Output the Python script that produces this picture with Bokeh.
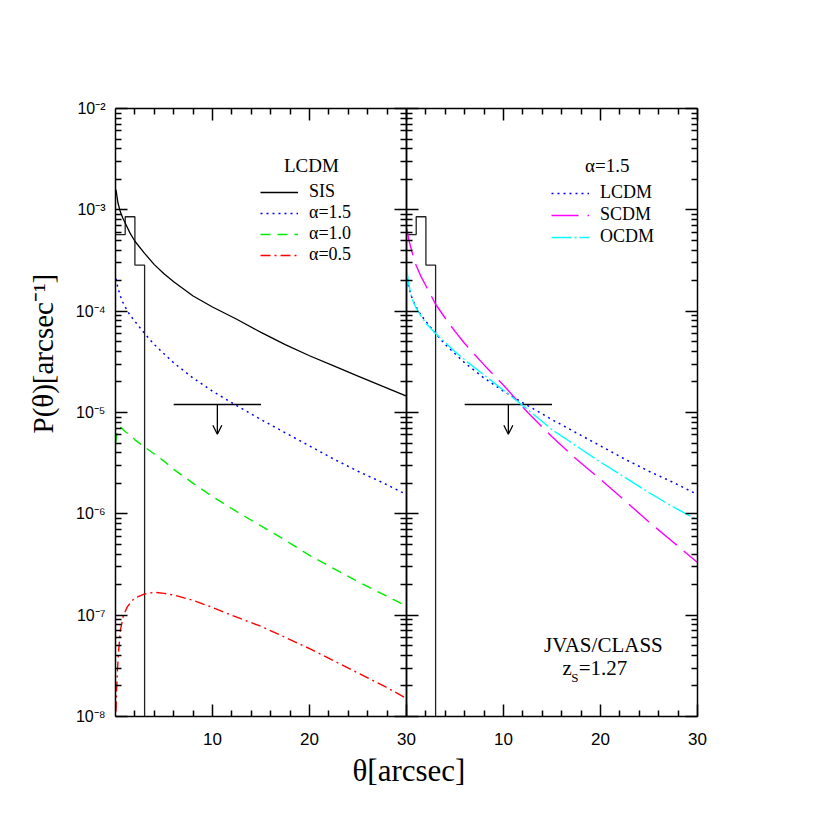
import math
from bokeh.plotting import figure
from bokeh.models import (Range1d, LinearAxis, LogAxis, FixedTicker, Label, Legend,
                          LegendItem, Arrow, OpenHead, Title)
from bokeh.layouts import row
from bokeh.embed import file_html
from bokeh.resources import INLINE

# ---------------- data ----------------
theta = [0.05, 0.25, 0.5, 0.75, 1, 1.5, 2, 3, 4, 5, 6, 8, 10, 12.5, 15, 17.5,
         20, 22.5, 25, 27.5, 30]
p_sis = [1.585e-3, 1.175e-3, 9.55e-4, 8.32e-4, 7.41e-4, 5.89e-4, 4.90e-4, 3.72e-4,
         2.88e-4, 2.34e-4, 1.95e-4, 1.41e-4, 1.10e-4, 8.32e-5, 6.17e-5, 4.68e-5,
         3.63e-5, 2.88e-5, 2.29e-5, 1.82e-5, 1.45e-5]
p_lcdm15 = [2.09e-4, 1.70e-4, 1.41e-4, 1.23e-4, 1.10e-4, 9.12e-5, 7.94e-5, 6.03e-5,
            4.68e-5, 3.80e-5, 3.09e-5, 2.19e-5, 1.62e-5, 1.17e-5, 8.51e-6, 6.31e-6,
            4.68e-6, 3.47e-6, 2.63e-6, 2.04e-6, 1.55e-6]
theta_a10 = [0.02, 0.15, 0.35, 0.6, 1, 1.5, 2, 3, 4, 5, 6, 8, 10, 12.5, 15, 17.5,
             20, 22.5, 25, 27.5, 30]
p_a10 = [5.01e-6, 6.31e-6, 7.08e-6, 7.08e-6, 6.46e-6, 6.03e-6, 5.37e-6, 4.57e-6,
         3.89e-6, 3.31e-6, 2.75e-6, 2.00e-6, 1.48e-6, 1.05e-6, 7.59e-7, 5.50e-7,
         3.89e-7, 2.88e-7, 2.14e-7, 1.62e-7, 1.23e-7]
theta_a05 = [0.05, 0.1, 0.2, 0.3, 0.5, 0.8, 1.2, 1.6, 2, 3, 4, 5, 6, 8, 10, 12.5,
             15, 17.5, 20, 22.5, 25, 27.5, 30]
p_a05 = [1.12e-8, 1.66e-8, 2.82e-8, 4.17e-8, 7.08e-8, 9.77e-8, 1.20e-7, 1.35e-7,
         1.48e-7, 1.62e-7, 1.68e-7, 1.64e-7, 1.58e-7, 1.40e-7, 1.19e-7, 9.55e-8,
         7.76e-8, 6.03e-8, 4.68e-8, 3.55e-8, 2.69e-8, 2.04e-8, 1.51e-8]
p_scdm = [6.46e-4, 5.01e-4, 4.07e-4, 3.31e-4, 2.82e-4, 2.19e-4, 1.78e-4, 1.17e-4,
          8.51e-5, 6.31e-5, 4.79e-5, 2.95e-5, 1.86e-5, 1.00e-5, 5.75e-6, 3.47e-6,
          2.19e-6, 1.35e-6, 8.32e-7, 5.25e-7, 3.31e-7]
p_ocdm = [2.45e-4, 1.82e-4, 1.41e-4, 1.20e-4, 1.07e-4, 8.91e-5, 7.59e-5, 6.03e-5,
          4.90e-5, 3.98e-5, 3.31e-5, 2.34e-5, 1.66e-5, 1.07e-5, 6.76e-6, 4.68e-6,
          3.24e-6, 2.29e-6, 1.62e-6, 1.17e-6, 8.71e-7]

hist_edges = [0, 1, 2, 3]
hist_vals = [5.7e-4, 8.55e-4, 2.85e-4]
hist_floor = 1e-9

limit_theta = [6, 15]
limit_value = 1.2e-5
limit_arrow_theta = 10.5
limit_arrow_end = 6.1e-6

x_ticks = [10, 20, 30]
x_minor_ticks = [2, 4, 6, 8, 12, 14, 16, 18, 22, 24, 26, 28]
y_ticks = [1e-8, 1e-7, 1e-6, 1e-5, 1e-4, 1e-3, 1e-2]
y_tick_labels = ["10\u207b\u2078", "10\u207b\u2077", "10\u207b\u2076", "10\u207b\u2075",
                 "10\u207b\u2074", "10\u207b\u00b3", "10\u207b\u00b2"]
y_minor_ticks = [m * 10.0 ** e for e in range(-8, -2) for m in range(2, 10)]

SERIF = "Liberation Serif"
SANS = "Liberation Sans"
FW, FH = 291, 608
OV = 80


def style_axis(ax, labels, size="17px", standoff=14):
    ax.axis_line_color = "black"
    ax.axis_line_width = 1.5
    ax.major_tick_in = 12
    ax.major_tick_out = 0
    ax.minor_tick_in = 6
    ax.minor_tick_out = 0
    ax.major_tick_line_color = "black"
    ax.minor_tick_line_color = "black"
    ax.major_tick_line_width = 1.5
    ax.minor_tick_line_width = 1.5
    ax.major_label_text_font = SANS
    ax.major_label_text_font_size = size
    if labels:
        ax.major_label_text_color = "black"
        ax.major_label_standoff = standoff
    else:
        ax.major_label_text_color = None
        ax.major_label_standoff = 0


def make_panel(bl, br, ylabels):
    p = figure(frame_width=FW, frame_height=FH, x_range=Range1d(0, 30),
               y_range=Range1d(1e-8, 1e-2), y_axis_type="log",
               x_axis_location=None, y_axis_location=None,
               toolbar_location=None, output_backend="svg",
               min_border_left=bl, min_border_right=br,
               min_border_top=108, min_border_bottom=85)
    p.outline_line_color = None
    p.background_fill_color = None
    p.border_fill_color = None
    p.grid.visible = False
    xt = FixedTicker(ticks=x_ticks, minor_ticks=x_minor_ticks)
    yt = FixedTicker(ticks=y_ticks, minor_ticks=y_minor_ticks)
    b = LinearAxis(ticker=xt)
    style_axis(b, True, "17px", 16)
    p.add_layout(b, "below")
    t = LinearAxis(ticker=xt)
    style_axis(t, False)
    p.add_layout(t, "above")
    l = LogAxis(ticker=yt)
    style_axis(l, ylabels, "16px", 10)
    l.major_label_overrides = dict(zip(y_ticks, y_tick_labels))
    p.add_layout(l, "left")
    r = LogAxis(ticker=yt)
    style_axis(r, False)
    r.major_label_overrides = dict(zip(y_ticks, y_tick_labels))
    p.add_layout(r, "right")
    return p


def add_hist_and_limit(p):
    hx, hy = [hist_edges[0]], [hist_vals[0]]
    for i, v in enumerate(hist_vals):
        hx += [hist_edges[i], hist_edges[i + 1]]
        hy += [v, v]
    hx.append(hist_edges[-1])
    hy.append(hist_floor)
    p.line(hx, hy, line_color="#222222", line_width=1.3)
    p.line(limit_theta, [limit_value, limit_value], line_color="black", line_width=1.3)
    p.add_layout(Arrow(x_start=limit_arrow_theta, y_start=limit_value,
                       x_end=limit_arrow_theta, y_end=limit_arrow_end,
                       line_color="black", line_width=1.3,
                       end=OpenHead(size=9, line_color="black", line_width=1.3)))


def legend(p, items, loc, spacing):
    lg = Legend(items=items, location=loc, label_text_font=SERIF,
                label_text_font_size="18px", label_text_color="black",
                glyph_width=38, glyph_height=20, label_height=20,
                label_standoff=11, spacing=spacing, padding=0, margin=0,
                border_line_color=None, background_fill_alpha=0)
    p.add_layout(lg)


def text(p, x, y, s, size="19px", align="center"):
    p.add_layout(Label(x=x, y=y, text=s, text_font=SERIF, text_font_size=size,
                       text_color="black", text_align=align, text_baseline="middle"))


def title(p, s, side, offset, standoff, size):
    p.add_layout(Title(text=s, align="left", offset=offset, standoff=standoff,
                       text_font=SERIF, text_font_size=size,
                       text_font_style="normal", text_color="black"), side)


# ---------------- left panel ----------------
p1 = make_panel(115, OV, True)
add_hist_and_limit(p1)
r_sis = p1.line(theta, p_sis, line_color="black", line_width=1.3)
r_15 = p1.line(theta, p_lcdm15, line_color="blue", line_width=1.5, line_dash="2 4")
r_10 = p1.line(theta_a10, p_a10, line_color="#00ee00", line_width=1.4, line_dash="10 7")
r_05 = p1.line(theta_a05, p_a05, line_color="red", line_width=1.4, line_dash="10 4 2 4")
legend(p1, [LegendItem(label="SIS", renderers=[r_sis]),
            LegendItem(label="\u03b1=1.5", renderers=[r_15]),
            LegendItem(label="\u03b1=1.0", renderers=[r_10]),
            LegendItem(label="\u03b1=0.5", renderers=[r_05])], (145, 451), 0)
text(p1, 20.2, 2.74e-3, "LCDM")
title(p1, "P(\u03b8)[arcsec\u207b\u00b9]", "left", 283, 28, "29px")

# ---------------- right panel ----------------
p2 = make_panel(OV, 40, False)
p2.styles = {"position": "relative", "left": "-%dpx" % (2 * OV)}
add_hist_and_limit(p2)
r_l = p2.line(theta, p_lcdm15, line_color="blue", line_width=1.5, line_dash="2 4")
r_s = p2.line(theta, p_scdm, line_color="magenta", line_width=1.4, line_dash="27 9")
r_o = p2.line(theta, p_ocdm, line_color="cyan", line_width=1.4, line_dash="20 3 2 3")
legend(p2, [LegendItem(label="LCDM", renderers=[r_l]),
            LegendItem(label="SCDM", renderers=[r_s]),
            LegendItem(label="OCDM", renderers=[r_o])], (145, 469), 1)
text(p2, 20.7, 2.74e-3, "\u03b1=1.5")
text(p2, 20.3, 5.02e-8, "JVAS/CLASS", "21px")
text(p2, 17.04, 2.98e-8, "z", "21px", "right")
text(p2, 16.98, 2.45e-8, "S", "13px", "left")
text(p2, 17.75, 2.98e-8, "=1.27", "21px", "left")
title(p2, "\u03b8[arcsec]", "below", -54, 7, "31px")

layout = row(p1, p2)
open("out.html", "w").write(file_html(layout, INLINE))
